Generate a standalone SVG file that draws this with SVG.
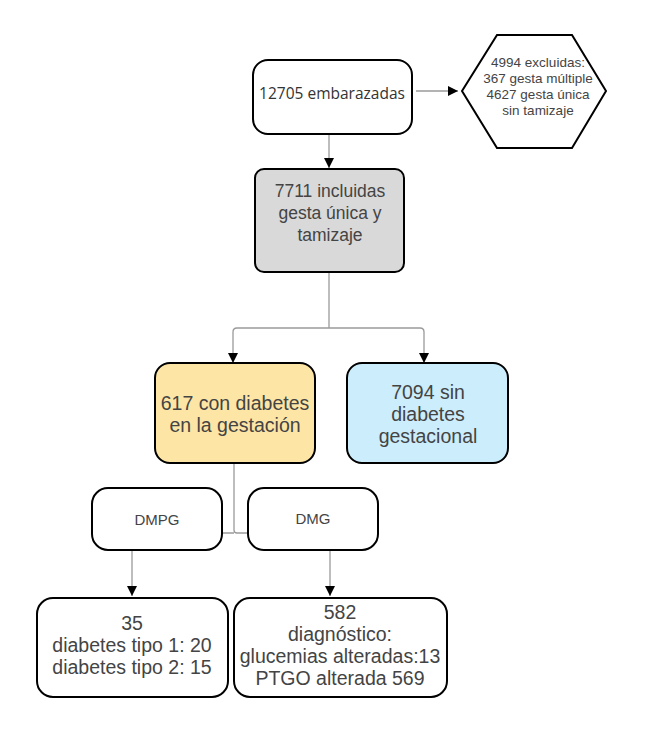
<svg xmlns="http://www.w3.org/2000/svg" width="672" height="750" viewBox="0 0 672 750">
<defs>
<marker id="ah" viewBox="0 0 10 10" refX="10" refY="5" markerWidth="10" markerHeight="10" markerUnits="userSpaceOnUse" orient="auto">
<path d="M0,0 L10,5 L0,10 z" fill="#000"/>
</marker>
</defs>
<style>
.box{stroke:#000;stroke-width:2}
.t{font-family:"Liberation Sans",Arial,sans-serif;fill:#444;text-anchor:middle}
.c{fill:none;stroke:#9a9a9a;stroke-width:1.3}
</style>
<rect width="672" height="750" fill="#fff"/>
<g id="connectors">
<path class="c" d="M416,91 H458" marker-end="url(#ah)"/>
<path class="c" d="M329,135 V168" marker-end="url(#ah)"/>
<path class="c" d="M329,272 V328 M237,328 H420 Q424,328 424,332 V363" marker-end="url(#ah)"/>
<path class="c" d="M237,328 Q233,328 233,332 V363" marker-end="url(#ah)"/>
<path class="c" d="M234,463 V530 Q234,533 237,533 H248 M222,533 H234"/>
<path class="c" d="M132,550 V596" marker-end="url(#ah)"/>
<path class="c" d="M330,550 V596" marker-end="url(#ah)"/>
</g>
<g id="n1">
<rect class="box" x="253" y="60" width="159" height="74" rx="15" fill="#fff"/>
<text x="332" y="99" style="font-family:'Open Sans',sans-serif;font-size:15.5px;fill:#333;text-anchor:middle">12705 embarazadas</text>
</g>
<g id="excl">
<polygon class="box" points="462,91 497,35 572,35 606,91 572,148 497,148" fill="#fff"/>
<text class="t" style="font-size:13.5px" x="538" y="67">4994 excluidas:</text>
<text class="t" style="font-size:13.5px" x="538" y="83">367 gesta múltiple</text>
<text class="t" style="font-size:13.5px" x="538" y="99">4627 gesta única</text>
<text class="t" style="font-size:13.5px" x="538" y="115">sin tamizaje</text>
</g>
<g id="n2">
<rect class="box" x="255" y="169" width="149" height="103" rx="9" fill="#d9d9d9"/>
<text class="t" style="font-size:17.5px" x="330" y="197">7711 incluidas</text>
<text class="t" style="font-size:17.5px" x="330" y="219">gesta única y</text>
<text class="t" style="font-size:17.5px" x="330" y="241">tamizaje</text>
</g>
<g id="n3">
<rect class="box" x="155" y="363" width="160" height="100" rx="15" fill="#fde5a6"/>
<text class="t" style="font-size:19.5px" x="235" y="410">617 con diabetes</text>
<text class="t" style="font-size:19.5px" x="235" y="432">en la gestación</text>
</g>
<g id="n4">
<rect class="box" x="347" y="363" width="161" height="100" rx="15" fill="#ccedfb"/>
<text class="t" style="font-size:19.5px" x="428" y="399">7094 sin</text>
<text class="t" style="font-size:19.5px" x="428" y="421">diabetes</text>
<text class="t" style="font-size:19.5px" x="428" y="443">gestacional</text>
</g>
<g id="dmpg">
<rect class="box" x="92" y="488" width="130" height="62" rx="16" fill="#fff"/>
<text class="t" style="font-size:15px" x="157" y="525">DMPG</text>
</g>
<g id="dmg">
<rect class="box" x="248" y="488" width="130" height="62" rx="16" fill="#fff"/>
<text class="t" style="font-size:15px" x="313" y="524">DMG</text>
</g>
<g id="n5">
<rect class="box" x="37" y="598" width="191" height="99" rx="16" fill="#fff"/>
<text class="t" style="font-size:19.5px" x="132" y="630">35</text>
<text class="t" style="font-size:19.5px" x="132" y="652">diabetes tipo 1: 20</text>
<text class="t" style="font-size:19.5px" x="132" y="674">diabetes tipo 2: 15</text>
</g>
<g id="n6">
<rect class="box" x="234" y="598" width="213" height="99" rx="16" fill="#fff"/>
<text class="t" style="font-size:19.5px" x="340" y="619">582</text>
<text class="t" style="font-size:19.5px" x="340" y="641">diagnóstico:</text>
<text class="t" style="font-size:19.5px" x="340" y="663">glucemias alteradas:13</text>
<text class="t" style="font-size:19.5px" x="340" y="685">PTGO alterada 569</text>
</g>
</svg>
